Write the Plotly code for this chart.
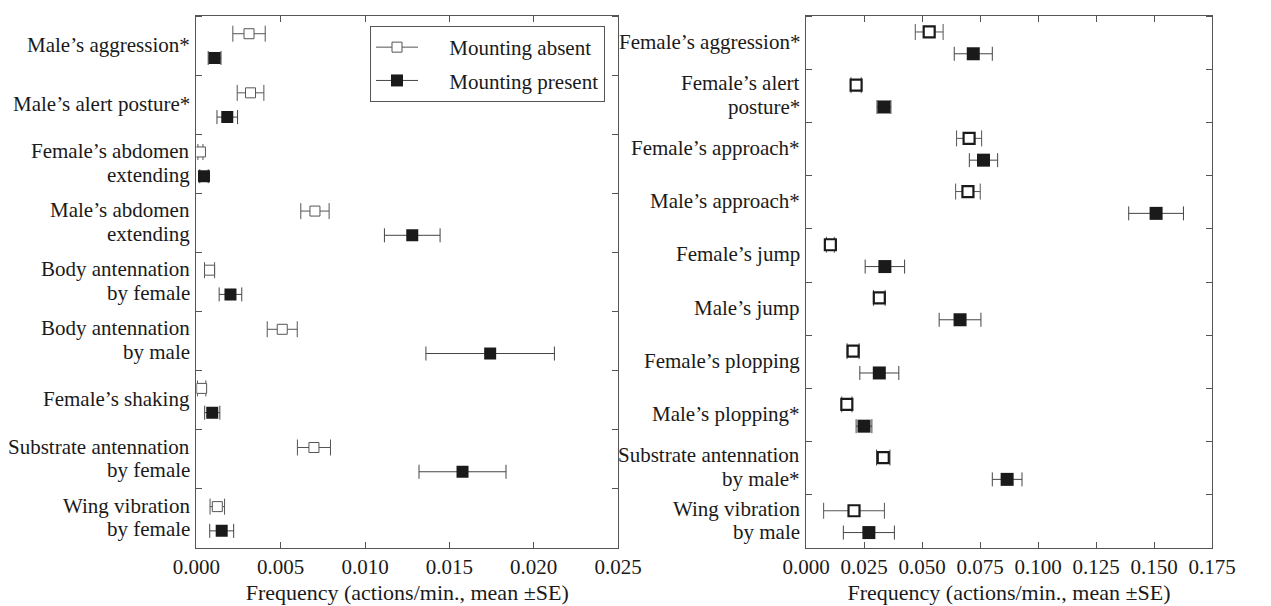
import plotly.graph_objects as go
from plotly.subplots import make_subplots

FONT = "'Liberation Serif', 'Times New Roman', Times, 'DejaVu Serif', serif"
FS = 21
LINE_GAP = 23.5
# the page body has an 8px margin; the figure is sized so that it fits the window exactly
OFF = 8
W, H = 1271 - OFF, 606 - OFF

left_cats = ["Male’s aggression*", "Male’s alert posture*", "Female’s abdomen<br>extending",
             "Male’s abdomen<br>extending", "Body antennation<br>by female", "Body antennation<br>by male",
             "Female’s shaking", "Substrate antennation<br>by female", "Wing vibration<br>by female"]
left_absent_mean = [0.00312, 0.00321, 0.00024, 0.00703, 0.00078, 0.00509, 0.00031, 0.00697, 0.00124]
left_absent_se = [0.00096, 0.00079, 0.00015, 0.00084, 0.00030, 0.00089, 0.00025, 0.00098, 0.00043]
left_present_mean = [0.00108, 0.00183, 0.00045, 0.01280, 0.00202, 0.01742, 0.00094, 0.01578, 0.00150]
left_present_se = [0.00038, 0.00061, 0.00025, 0.00165, 0.00067, 0.00381, 0.00045, 0.00258, 0.00071]

right_cats = ["Female’s aggression*", "Female’s alert<br>posture*", "Female’s approach*",
              "Male’s approach*", "Female’s jump", "Male’s jump", "Female’s plopping",
              "Male’s plopping*", "Substrate antennation<br>by male*", "Wing vibration<br>by male"]
right_absent_mean = [0.0531, 0.0216, 0.0703, 0.0698, 0.0105, 0.0316, 0.0203, 0.0176, 0.0333, 0.0207]
right_absent_se = [0.0060, 0.0022, 0.0054, 0.0053, 0.0017, 0.0025, 0.0026, 0.0022, 0.0029, 0.0131]
right_present_mean = [0.0721, 0.0336, 0.0765, 0.1509, 0.0340, 0.0664, 0.0316, 0.0250, 0.0867, 0.0271]
right_present_se = [0.0082, 0.0030, 0.0061, 0.0118, 0.0085, 0.0090, 0.0084, 0.0034, 0.0064, 0.0110]

left_xticks = [0.000, 0.005, 0.010, 0.015, 0.020, 0.025]
right_xticks = [0.000, 0.025, 0.050, 0.075, 0.100, 0.125, 0.150, 0.175]
x_title = "Frequency (actions/min., mean ±SE)"
legend_names = ["Mounting absent", "Mounting present"]

fig = make_subplots(rows=1, cols=2)
annotations = []

def add_panel(col, cats, am, ase, pm, pse, absent_line_w, absent_line_c):
    n = len(cats)
    ya = [i - 0.2 for i in range(n)]
    yp = [i + 0.21 for i in range(n)]
    fig.add_trace(go.Scatter(
        x=am, y=ya, mode="markers", name=legend_names[0], showlegend=False,
        marker=dict(symbol="square", size=10 if col == 1 else 11, color="white",
                    line=dict(color=absent_line_c, width=absent_line_w)),
        error_x=dict(type="data", array=ase, color="#555555", thickness=1, width=8),
    ), row=1, col=col)
    fig.add_trace(go.Scatter(
        x=pm, y=yp, mode="markers", name=legend_names[1], showlegend=False,
        marker=dict(symbol="square", size=12 if col == 1 else 13, color="#1a1a1a",
                    line=dict(color="#1a1a1a", width=0)),
        error_x=dict(type="data", array=pse, color="#444444", thickness=1, width=7),
    ), row=1, col=col)
    fig.update_yaxes(
        range=[n - 0.5, -0.5], tickmode="array", tickvals=list(range(n)),
        showticklabels=False,
        ticks="", showgrid=False, zeroline=False, showline=True, linecolor="#555555",
        linewidth=1, mirror="ticks", automargin=False,
        minor=dict(tickmode="linear", tick0=0.5, dtick=1, ticks="inside", ticklen=6,
                   tickcolor="#555555", showgrid=False),
        row=1, col=col)
    # category labels (compact line spacing, right-aligned against the axis)
    xd = "x domain" if col == 1 else "x2 domain"
    yr = "y" if col == 1 else "y2"
    for i, lab in enumerate(cats):
        lines = lab.split("<br>")
        k = len(lines)
        for j, line in enumerate(lines):
            annotations.append(dict(
                text=line, xref=xd, yref=yr, x=0, y=i, xanchor="right", yanchor="middle",
                xshift=-5, yshift=-(j - (k - 1) / 2) * LINE_GAP + 1, showarrow=False, borderpad=0,
                font=dict(family=FONT, size=FS, color="#1a1a1a")))

add_panel(1, left_cats, left_absent_mean, left_absent_se, left_present_mean, left_present_se,
          1, "#555555")
add_panel(2, right_cats, right_absent_mean, right_absent_se, right_present_mean, right_present_se,
          2.2, "#1a1a1a")

# legend-only entries (line through marker mimics the error-bar glyph)
fig.add_trace(go.Scatter(x=[None], y=[None], mode="lines+markers", name="\u00a0" * 5 + legend_names[0],
                         legendgroup="a", line=dict(color="#555555", width=1),
                         marker=dict(symbol="square", size=10, color="white",
                                     line=dict(color="#555555", width=1))), row=1, col=1)
fig.add_trace(go.Scatter(x=[None], y=[None], mode="lines+markers", name="\u00a0" * 5 + legend_names[1],
                         legendgroup="b", line=dict(color="#444444", width=1),
                         marker=dict(symbol="square", size=12, color="#1a1a1a")), row=1, col=1)

def px_x(x):
    return (x - OFF) / W

for col, ticks, rng, dom in [(1, left_xticks, [0, 0.025], [px_x(196.4), px_x(618)]),
                             (2, right_xticks, [0, 0.175], [px_x(806), px_x(1212)])]:
    fig.update_xaxes(
        domain=dom, range=rng, tickmode="array", tickvals=ticks,
        ticktext=[f"{t:.3f}" for t in ticks], ticks="inside", ticklen=6, tickcolor="#555555",
        showgrid=False, zeroline=False, showline=True, linecolor="#555555", linewidth=1,
        mirror="ticks", automargin=False, tickfont=dict(family=FONT, size=FS, color="#1a1a1a"),
        title=dict(text=x_title, font=dict(family=FONT, size=22, color="#1a1a1a"), standoff=6),
        row=1, col=col)

top_px, bottom_px = 16, 548
fig.update_layout(
    width=W, height=H,
    margin=dict(l=0, r=0, t=top_px - OFF, b=H - (bottom_px - OFF), autoexpand=False),
    plot_bgcolor="white", paper_bgcolor="white",
    font=dict(family=FONT, size=FS, color="#1a1a1a"),
    annotations=annotations,
    legend=dict(x=px_x(370), y=1 - (26 - top_px) / (bottom_px - top_px), xanchor="left", yanchor="top",
                xref="paper", yref="paper", traceorder="grouped", tracegroupgap=3,
                bordercolor="#555555", borderwidth=1, bgcolor="white",
                font=dict(family=FONT, size=FS, color="#1a1a1a"), itemwidth=42),
)
fig.update_yaxes(domain=[0, 1])

fig.write_html("out.html")
